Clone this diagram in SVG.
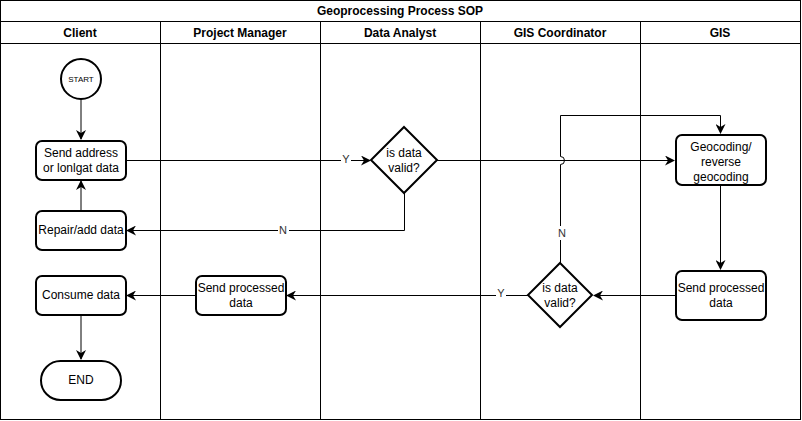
<svg xmlns="http://www.w3.org/2000/svg" width="802" height="421" viewBox="0 0 802 421">
<style>
text{font-family:"Liberation Sans",Arial,sans-serif;font-size:12px;fill:#000;text-anchor:middle}
.hd{font-weight:bold}
.lane{fill:none;stroke:#000;stroke-width:1}
.box{fill:#fff;stroke:#000;stroke-width:2}
.ln{fill:none;stroke:#000;stroke-width:1}
.lbl{font-size:11px;fill:#333}
.lb{fill:#fff}
</style>
<defs>
<marker id="ar" viewBox="0 0 10 10" refX="9" refY="5" markerWidth="10" markerHeight="10" markerUnits="userSpaceOnUse" orient="auto">
<path d="M0,0 L10,5 L0,10 L3,5 Z" fill="#000"/>
</marker>
</defs>
<rect width="802" height="421" fill="#fff"/>
<g id="pool">
<rect class="lane" x="0.5" y="0.5" width="800" height="419"/>
<line class="lane" x1="0" y1="21.5" x2="801" y2="21.5"/>
<line class="lane" x1="0" y1="43.5" x2="801" y2="43.5"/>
<line class="lane" x1="160.5" y1="22" x2="160.5" y2="420"/>
<line class="lane" x1="320.5" y1="22" x2="320.5" y2="420"/>
<line class="lane" x1="480.5" y1="22" x2="480.5" y2="420"/>
<line class="lane" x1="640.5" y1="22" x2="640.5" y2="420"/>
<text class="hd" x="400" y="15">Geoprocessing Process SOP</text>
<text class="hd" x="80" y="37">Client</text>
<text class="hd" x="240" y="37">Project Manager</text>
<text class="hd" x="400" y="37">Data Analyst</text>
<text class="hd" x="560" y="37">GIS Coordinator</text>
<text class="hd" x="720" y="37">GIS</text>
</g>
<g id="connectors">
<line class="ln" x1="81" y1="99" x2="81" y2="139" marker-end="url(#ar)"/>
<line class="ln" x1="126" y1="160.5" x2="370" y2="160.5" marker-end="url(#ar)"/>
<polyline class="ln" points="404.5,193 404.5,230.5 127,230.5" marker-end="url(#ar)"/>
<line class="ln" x1="81" y1="210" x2="81" y2="181" marker-end="url(#ar)"/>
<line class="ln" x1="437" y1="160.5" x2="674" y2="160.5" marker-end="url(#ar)"/>
<path class="ln" d="M560.5,263 L560.5,164.5 A4,4 0 0 0 560.5,156.5 L560.5,115.5 L720.5,115.5 L720.5,133" marker-end="url(#ar)"/>
<line class="ln" x1="720.5" y1="186" x2="720.5" y2="269" marker-end="url(#ar)"/>
<line class="ln" x1="675" y1="295.5" x2="594" y2="295.5" marker-end="url(#ar)"/>
<line class="ln" x1="528" y1="295.5" x2="287" y2="295.5" marker-end="url(#ar)"/>
<line class="ln" x1="195" y1="295.5" x2="127" y2="295.5" marker-end="url(#ar)"/>
<line class="ln" x1="81" y1="315" x2="81" y2="359" marker-end="url(#ar)"/>
<rect class="lb" x="341" y="152" width="10" height="14"/>
<text class="lbl" x="346" y="163">Y</text>
<rect class="lb" x="278" y="223" width="11" height="14"/>
<text class="lbl" x="283" y="234">N</text>
<rect class="lb" x="557" y="226" width="11" height="14"/>
<text class="lbl" x="562" y="237">N</text>
<rect class="lb" x="496" y="287" width="10" height="14"/>
<text class="lbl" x="501" y="297">Y</text>
</g>
<g id="start">
<circle class="box" cx="81" cy="79" r="20"/>
<text x="81" y="82" style="font-size:8px">START</text>
</g>
<g id="send-address">
<rect class="box" x="36" y="141" width="90" height="39" rx="6"/>
<text x="81" y="157">Send address</text>
<text x="81" y="172">or lonlgat data</text>
</g>
<g id="repair">
<rect class="box" x="36" y="211" width="90" height="39" rx="6"/>
<text x="81" y="234">Repair/add data</text>
</g>
<g id="consume">
<rect class="box" x="36" y="276" width="90" height="39" rx="6"/>
<text x="81" y="299">Consume data</text>
</g>
<g id="end">
<rect class="box" x="41" y="361" width="80" height="39" rx="19.5"/>
<text x="81" y="384">END</text>
</g>
<g id="pm-send">
<rect class="box" x="196" y="276" width="90" height="39" rx="6"/>
<text x="241" y="292">Send processed</text>
<text x="241" y="307">data</text>
</g>
<g id="da-valid">
<polygon class="box" points="404,127 437,160 404,193 371,160"/>
<text x="404" y="157">is data</text>
<text x="404" y="172">valid?</text>
</g>
<g id="gc-valid">
<polygon class="box" points="560,263 592,295 560,327 528,295"/>
<text x="560" y="292">is data</text>
<text x="560" y="307">valid?</text>
</g>
<g id="geocoding">
<rect class="box" x="676" y="135" width="90" height="50" rx="6"/>
<text x="721" y="151">Geocoding/</text>
<text x="721" y="166">reverse</text>
<text x="721" y="181">geocoding</text>
</g>
<g id="gis-send">
<rect class="box" x="676" y="271" width="90" height="49" rx="6"/>
<text x="721" y="292">Send processed</text>
<text x="721" y="307">data</text>
</g>
</svg>
